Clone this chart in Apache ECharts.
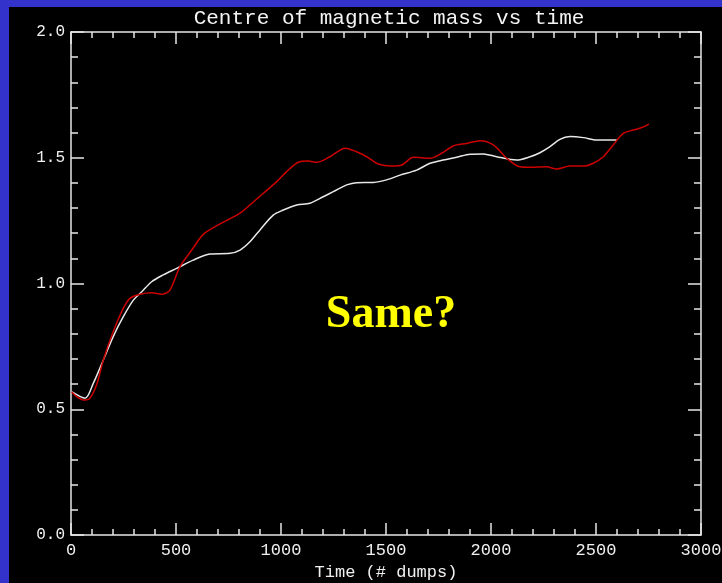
<!DOCTYPE html>
<html>
<head>
<meta charset="utf-8">
<script src="https://cdn.jsdelivr.net/npm/echarts@6/dist/echarts.min.js"></script>
<style>
  html, body { margin: 0; padding: 0; background: #000; }
  #chart { width: 722px; height: 583px; }
</style>
</head>
<body>
<div id="chart"></div>
<script>
// Time in dumps and centre of magnetic mass for the two runs
const whiteTime = [3, 67, 106, 154, 201, 249, 297, 337, 384, 439, 503, 582, 662, 757, 805, 852, 900, 963, 1011, 1075, 1138, 1201, 1249, 1313, 1360, 1440, 1503, 1567, 1646, 1710, 1773, 1837, 1900, 1963, 2027, 2122, 2186, 2233, 2281, 2328, 2376, 2440, 2503, 2599];
const whiteMass = [0.570, 0.544, 0.603, 0.696, 0.789, 0.868, 0.934, 0.967, 1.007, 1.034, 1.060, 1.093, 1.117, 1.120, 1.133, 1.166, 1.213, 1.272, 1.292, 1.312, 1.319, 1.345, 1.365, 1.392, 1.401, 1.402, 1.412, 1.431, 1.451, 1.478, 1.491, 1.502, 1.514, 1.515, 1.504, 1.491, 1.504, 1.520, 1.544, 1.573, 1.584, 1.580, 1.571, 1.571];

const redTime = [3, 27, 59, 90, 122, 154, 201, 249, 281, 329, 384, 432, 471, 519, 575, 638, 805, 852, 916, 980, 1027, 1082, 1130, 1170, 1233, 1305, 1360, 1408, 1463, 1527, 1575, 1630, 1710, 1765, 1820, 1884, 1948, 2011, 2075, 2138, 2186, 2265, 2313, 2376, 2440, 2487, 2535, 2582, 2630, 2678, 2718, 2752];
const redMass = [0.570, 0.550, 0.537, 0.544, 0.597, 0.696, 0.808, 0.901, 0.941, 0.957, 0.963, 0.957, 0.974, 1.067, 1.133, 1.201, 1.280, 1.312, 1.359, 1.405, 1.445, 1.482, 1.487, 1.482, 1.504, 1.538, 1.524, 1.504, 1.475, 1.467, 1.471, 1.502, 1.498, 1.518, 1.547, 1.557, 1.568, 1.551, 1.498, 1.464, 1.462, 1.464, 1.455, 1.467, 1.467, 1.478, 1.504, 1.551, 1.597, 1.610, 1.620, 1.634];

const xTickLabels = ['0', '500', '1000', '1500', '2000', '2500', '3000'];
const yTickLabels = ['0.0', '0.5', '1.0', '1.5', '2.0'];

const titleText = 'Centre of magnetic mass vs time';
const xAxisTitle = 'Time (# dumps)';
const noteText = 'Same?';

const pair = (xs, ys) => xs.map((x, i) => [x, ys[i]]);

const FONT = '"Liberation Mono", "DejaVu Sans Mono", monospace';
const AXIS_COLOR = '#e6e6e6';

function xAxisDef(pos, labels) {
  return {
    type: 'value', position: pos, min: 0, max: 3000, interval: 500,
    axisLine: { show: true, onZero: false, lineStyle: { color: AXIS_COLOR, width: 1.5 } },
    axisTick: { show: true, inside: true, length: 12, lineStyle: { color: AXIS_COLOR, width: 1.5 } },
    minorTick: { show: true, splitNumber: 5, length: 6, lineStyle: { color: AXIS_COLOR, width: 1.5 } },
    splitLine: { show: false },
    axisLabel: {
      show: labels, color: '#f0f0f0', fontFamily: FONT, fontSize: 17, margin: 7,
      formatter: v => xTickLabels[Math.round(v / 500)]
    },
    name: labels ? xAxisTitle : '', nameLocation: 'middle', nameGap: 28,
    nameTextStyle: { color: '#f0f0f0', fontFamily: FONT, fontSize: 17 }
  };
}

function yAxisDef(pos, labels) {
  return {
    type: 'value', position: pos, min: 0, max: 2, interval: 0.5,
    axisLine: { show: true, onZero: false, lineStyle: { color: AXIS_COLOR, width: 1.5 } },
    axisTick: { show: true, inside: true, length: 13, lineStyle: { color: AXIS_COLOR, width: 1.5 } },
    minorTick: { show: true, splitNumber: 5, length: 7, lineStyle: { color: AXIS_COLOR, width: 1.5 } },
    splitLine: { show: false },
    axisLabel: {
      show: labels, color: '#f0f0f0', fontFamily: FONT, fontSize: 16, margin: 6,
      formatter: v => yTickLabels[Math.round(v / 0.5)]
    }
  };
}

const chart = echarts.init(document.getElementById('chart'), null, { renderer: 'canvas' });
chart.setOption({
  backgroundColor: '#000000',
  animation: false,
  title: {
    text: titleText, left: 384, top: 3, textAlign: 'center',
    textStyle: { color: '#f4f4f4', fontFamily: FONT, fontSize: 21, fontWeight: 'normal' }
  },
  grid: { left: 71, right: 21, top: 32, bottom: 48, containLabel: false, outerBoundsMode: 'none' },
  xAxis: [xAxisDef('bottom', true), xAxisDef('top', false)],
  yAxis: [yAxisDef('left', true), yAxisDef('right', false)],
  graphic: [
    { type: 'rect', left: 0, top: 0, shape: { width: 722, height: 7 }, style: { fill: '#3333cc' }, z: 100 },
    { type: 'rect', left: 0, top: 0, shape: { width: 9, height: 583 }, style: { fill: '#3333cc' }, z: 100 },
    {
      type: 'text', x: 391, y: 315, z: 50,
      style: {
        text: noteText, fill: '#ffff00', align: 'center', verticalAlign: 'middle',
        font: 'bold 46px "Liberation Serif", "Times New Roman", serif'
      }
    }
  ],
  series: [
    {
      type: 'line', xAxisIndex: 0, yAxisIndex: 0, data: pair(whiteTime, whiteMass),
      showSymbol: false, smooth: 0.3, lineStyle: { color: '#e8e8e8', width: 1.5 }
    },
    {
      type: 'line', xAxisIndex: 0, yAxisIndex: 0, data: pair(redTime, redMass),
      showSymbol: false, smooth: 0.3, lineStyle: { color: '#cc0000', width: 1.5 }
    }
  ]
});
</script>
</body>
</html>
